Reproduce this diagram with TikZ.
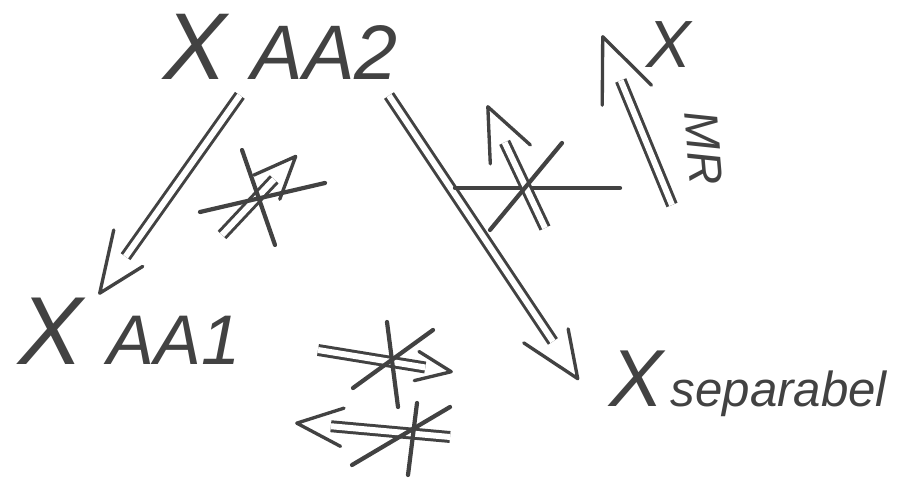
\documentclass[tikz,border=0pt]{standalone}
\usepackage{fontspec}
\setmainfont{Liberation Sans}
\usetikzlibrary{decorations.markings}
\definecolor{inkc}{RGB}{66,66,66}
\begin{document}
\begin{tikzpicture}[x=0.02cm, y=0.02cm,
  tipgap/.store in=\tipgap, tipgap=1pt,
  tiplen/.store in=\tiplen, tiplen=34pt,
  pen/.style={draw=inkc, line width=2.4pt, line cap=round, line join=round},
  dbl/.style={draw=inkc, line width=1.7pt, double=white, double distance=3.4pt},
  imp/.style={
    preaction={dbl, shorten >=\tipgap+0.75*\tiplen},
    postaction={decorate, decoration={markings,
      mark=at position -\tipgap with {\draw[pen, line width=1.9pt] (-\tiplen,0.42*\tiplen) -- (0,0) -- (-\tiplen,-0.42*\tiplen);}}}},
  lbl/.style={text=inkc, inner sep=2pt, font=\itshape}]
  \useasboundingbox (0,0) rectangle (911,479);
  \node[lbl, anchor=base west] (aa2) at (160,399) {{\fontsize{54}{54}\selectfont X}\hspace{14pt}\fontsize{44}{44}\selectfont AA2};
  \node[lbl, anchor=base west] (aa1) at (15,114) {{\fontsize{55}{55}\selectfont X}\hspace{14pt}\fontsize{40}{40}\selectfont AA1};
  \node[lbl, anchor=base west] (sep) at (606,72) {{\fontsize{46}{46}\selectfont X}\hspace{4pt}\fontsize{28}{28}\selectfont separabel};
  \node[lbl, anchor=base west] (topx) at (643,411) {\fontsize{38}{38}\selectfont X};
  \node[lbl, rotate=-85, inner sep=0pt] (mr) at (704,331) {\fontsize{27}{27}\selectfont MR};
  \path[imp, shorten <=8pt] (aa2.228) -- (aa1.130);
  \path[imp, tipgap=29pt, shorten <=8pt] (aa2.-20) -- (sep.south west);
  \path[imp, tiplen=24pt] (222,244) -- (297,324);
  \draw[pen] (200,267) -- (325,296);
  \draw[pen] (242,329) -- (275,234);
  \draw[pen] (455,291) -- (620,291);
  \path[imp, tiplen=30pt] (545,251) -- (487,374);
  \draw[pen] (490,249) -- (562,336);
  \path[imp, tiplen=36pt] (672,274) -- (602,444);
  \path[imp, tiplen=20pt] (318,129) -- (453,107);
  \draw[pen] (387,157) -- (398,72);
  \draw[pen] (353,91) -- (433,149);
  \path[imp, tiplen=26pt] (450,42) -- (295,56);
  \draw[pen] (417,76) -- (408,4);
  \draw[pen] (352,14) -- (450,72);
\end{tikzpicture}
\end{document}
